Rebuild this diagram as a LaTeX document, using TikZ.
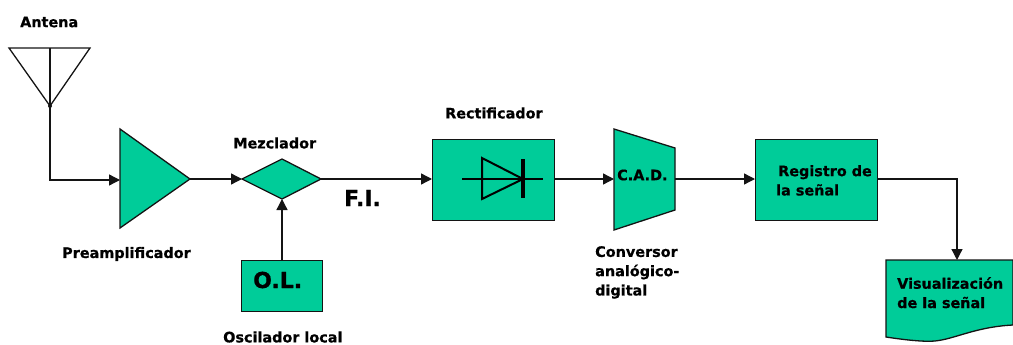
\documentclass[tikz,border=0pt]{standalone}
\usepackage{fontspec}
\setmainfont{DejaVu Sans}
\newfontfamily\heavyf[FakeBold=0.7]{DejaVu Sans Bold}
\usetikzlibrary{arrows.meta}
\definecolor{blockgreen}{RGB}{0,204,153}
\definecolor{inkc}{RGB}{20,20,20}
\tikzset{
  shapeline/.style={draw=inkc,line width=1.3pt,fill=blockgreen,line join=miter},
  wire/.style={draw=inkc,line width=1.3pt},
  flow/.style={wire,-{Triangle[length=11pt,width=11pt]}},
  boxnode/.style={shapeline,rectangle,inner sep=0pt,anchor=north west},
  lab/.style={font=\heavyf\fontsize{14.4}{19.3}\selectfont,text=black,inner sep=0pt,align=left},
  biglab/.style={font=\heavyf\fontsize{22}{24}\selectfont,text=black,inner sep=0pt},
}
\begin{document}
\begin{tikzpicture}[x=1pt,y=-1pt]
\useasboundingbox (0,0) rectangle (1013,345);
% coordinates of the drawn shapes
\coordinate (ant) at (50,48);
\coordinate (apex) at (50,106);
\coordinate (ampIn) at (120,180);
\coordinate (ampOut) at (190,179);
\coordinate (mixL) at (242,179);
\coordinate (mixR) at (321,179);
\coordinate (mixB) at (282,199);
\coordinate (cadL) at (614,180);
\coordinate (cadR) at (675,180);
\coordinate (wavTop) at (957,260);
% blocks
\draw[shapeline] (120,129) -- (ampOut) -- (120,228) -- cycle;
\draw[shapeline] (mixL) -- (282,159) -- (mixR) -- (mixB) -- cycle;
\node[boxnode,minimum width=81pt,minimum height=51pt] (ol) at (241,260) {};
\node[boxnode,minimum width=122pt,minimum height=81pt] (rect) at (432,139) {};
\draw[shapeline] (614,129) -- (675,148) -- (675,210) -- (614,230) -- cycle;
\node[boxnode,minimum width=122pt,minimum height=81pt] (reg) at (755,139) {};
\draw[shapeline] (1013,325) -- (1013,260) -- (886,260) -- (886,337)
  .. controls (905,340) and (925,342) .. (935,341)
  .. controls (955,339) and (975,327) .. (1013,325);
% antenna
\draw[wire] (9,48) -- (90,48) -- (apex) -- cycle;
\draw[wire] (ant) -- (apex);
\fill[inkc] (apex) circle (2pt);
% connectors
\draw[flow] (apex) |- (ampIn);
\draw[flow] (ampOut) -- (mixL);
\draw[flow] (ol.north -| mixB) -- (mixB);
\draw[flow] (mixR) -- (rect.west |- mixR);
\draw[flow] (rect.east |- mixR) -- (cadL |- mixR);
\draw[flow] (cadR |- mixR) -- (reg.west |- mixR);
\draw[flow] (reg.east |- mixR) -| (wavTop);
% diode
\coordinate (dA) at (462,179);
\coordinate (dK) at (543,179);
\draw[line width=2pt,draw=black,line join=miter] (482,158) -- (523,179) -- (482,199) -- cycle;
\draw[line width=2pt,draw=black] (dA) -- (dK);
\draw[line width=4.5pt,draw=black] (523,159) -- (523,198);
% labels
\node[lab,anchor=west] (tAnt) at (20,22) {Antena};
\node[lab,anchor=west] (tPre) at (62,254) {Preamplificador};
\node[lab,anchor=west] (tMez) at (233,143) {Mezclador};
\node[biglab,anchor=west] (tOL) at (253,280) {O.L.};
\node[lab,anchor=west] (tOsc) at (223,337) {Oscilador local};
\node[biglab,anchor=west] (tFI) at (344,198) {F.I.};
\node[lab,anchor=west] (tRec) at (445,113) {Rectificador};
\node[lab,anchor=west] (tCad) at (617,175) {C.A.D.};
\node[lab,anchor=north west] (tCon) at (595,246) {Conversor\\analógico-\\digital};
\node[lab,anchor=north west] (tReg) at (776,165) {\hspace*{2pt}Registro de\\la señal};
\node[lab,anchor=north west] (tVis) at (897,277) {Visualización\\de la señal};
\end{tikzpicture}
\end{document}
